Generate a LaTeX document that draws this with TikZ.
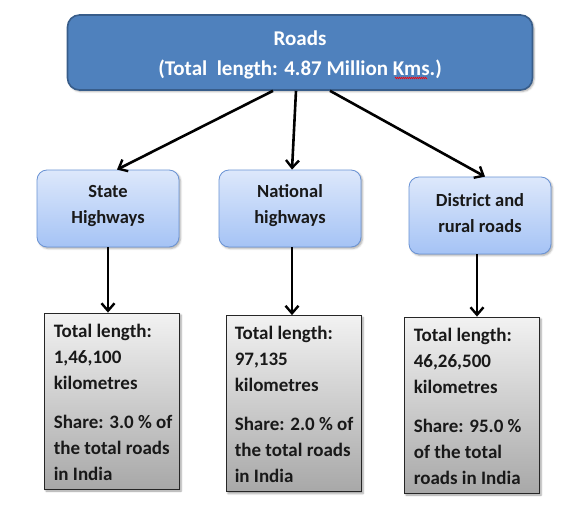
\documentclass[tikz,border=0pt]{standalone}
\usepackage{fontspec}
\setmainfont{Carlito}
\usetikzlibrary{arrows.meta,shadows.blur,decorations.pathmorphing}
\definecolor{topfill}{HTML}{4F81BD}
\definecolor{topdraw}{HTML}{385D8A}
\definecolor{midtop}{HTML}{DDE8FB}
\definecolor{midbot}{HTML}{A5C3F5}
\definecolor{middraw}{HTML}{6A93D4}
\definecolor{greytop}{HTML}{F2F2F2}
\definecolor{greybot}{HTML}{A8A8A8}
\tikzset{
  x=1pt,y=-1pt,
  topbox/.style={draw=topdraw,line width=1.6pt,fill=topfill,rounded corners=12pt,
    minimum width=465pt,minimum height=75pt,inner sep=0pt,
    blur shadow={shadow xshift=1.5pt,shadow yshift=-1.5pt,shadow opacity=35,shadow blur steps=4}},
  midbox/.style={draw=middraw,line width=0.8pt,top color=midtop,bottom color=midbot,rounded corners=10pt,
    minimum width=142pt,minimum height=77pt,inner sep=0pt,
    blur shadow={shadow xshift=1.5pt,shadow yshift=-1.5pt,shadow opacity=35,shadow blur steps=4}},
  midtext/.style={align=center,inner sep=0pt,
    font=\bfseries\fontsize{18.5}{26}\selectfont,text=black!90},
  infobox/.style={draw=black!85,line width=0.8pt,top color=greytop,bottom color=greybot,
    minimum width=135pt,minimum height=176pt,inner sep=0pt,
    blur shadow={shadow xshift=2pt,shadow yshift=-2pt,shadow opacity=40,shadow blur steps=4}},
  infotext/.style={anchor=north west,align=left,inner sep=0pt,
    font=\bfseries\fontsize{19}{26}\selectfont,text=black!90},
  arr/.style={line width=2.6pt,-{Straight Barb[length=7.5pt,width=13pt,line width=2.4pt]}}
}
\begin{document}
\begin{tikzpicture}
\useasboundingbox (0,0) rectangle (563,506);
\node[topbox] (top) at (300,52.5) {};
\node[text=white,font=\bfseries\fontsize{21}{30}\selectfont,align=center] (toptext) at (300,55)
  {Roads\\(Total~ length: 4.87 Million Kms.)};
\coordinate (kmsa) at (395,78);
\coordinate (kmsb) at (427,78);
\draw[red,line width=0.5pt,decorate,decoration={zigzag,segment length=2pt,amplitude=0.8pt}] (kmsa) -- (kmsb);

\node[midbox] (state) at (108,208.5) {};
\node[midbox] (nat) at (290,208.5) {};
\node[midbox] (dist) at (480,215.5) {};
\node[midtext] (statet) at ([yshift=2.5pt]state.center) {State\\Highways};
\node[midtext] (natt) at ([yshift=2.5pt]nat.center) {National\\highways};
\node[midtext] (distt) at ([yshift=2.5pt]dist.center) {District and\\rural roads};

\node[infobox] (b1) at (111.5,401) {};
\node[infobox] (b2) at (293.5,403.5) {};
\node[infobox] (b3) at (471.5,405) {};

\node[infotext] (t1) at ([xshift=10pt,yshift=-11pt]b1.north west)
  {Total length:\\1,46,100\\kilometres\\[13pt]Share: 3.0 \% of\\the total roads\\in India};
\node[infotext] (t2) at ([xshift=9pt,yshift=-11pt]b2.north west)
  {Total length:\\97,135\\kilometres\\[13pt]Share: 2.0 \% of\\the total roads\\in India};
\node[infotext] (t3) at ([xshift=10pt,yshift=-11pt]b3.north west)
  {Total length:\\46,26,500\\kilometres\\[13pt]Share: 95.0 \%\\of the total\\roads in India};

\draw[arr] ([xshift=-27pt]top.south) -- ([xshift=9pt]state.north);
\draw[arr] ([xshift=-4pt]top.south) -- ([xshift=2pt]nat.north);
\draw[arr] ([xshift=30pt]top.south) -- ([xshift=5pt]dist.north);
\draw[arr] (state.south) -- (state.south |- b1.north);
\draw[arr] ([xshift=2pt]nat.south) -- ([xshift=2pt]nat.south |- b2.north);
\draw[arr] ([xshift=-3pt]dist.south) -- ([xshift=-3pt]dist.south |- b3.north);
\end{tikzpicture}
\end{document}
